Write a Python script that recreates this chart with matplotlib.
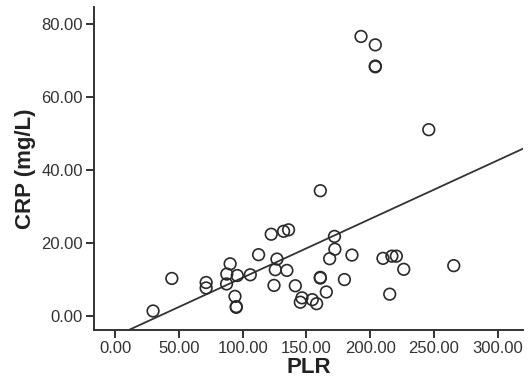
import numpy as np
import matplotlib
matplotlib.use("Agg")
import matplotlib.pyplot as plt

plt.rcParams['font.family'] = ['Liberation Sans', 'DejaVu Sans']

# Data (PLR vs CRP)
plr = [29.8, 44.5, 71.4, 71.4, 90.2, 87.6, 95.8, 87.4, 94.0, 95.0, 95.0,
       106.0, 112.5, 122.4, 126.9, 125.6, 124.6, 132.1, 136.0, 134.7, 141.3,
       146.5, 145.2, 154.6, 158.0, 160.9, 160.9, 160.9, 165.6, 168.2, 172.0,
       172.3, 179.8, 185.7, 192.8, 204.0, 204.0, 204.0, 210.0, 217.0, 220.5,
       215.3, 226.3, 245.9, 265.5]
crp = [1.4, 10.3, 9.2, 7.7, 14.3, 11.5, 11.1, 8.8, 5.4, 2.6, 2.4,
       11.3, 16.8, 22.4, 15.6, 12.7, 8.4, 23.2, 23.6, 12.5, 8.3,
       5.0, 3.8, 4.5, 3.4, 34.3, 10.6, 10.4, 6.6, 15.7, 21.8,
       18.3, 10.0, 16.7, 76.5, 74.2, 68.4, 68.2, 15.8, 16.4, 16.4,
       6.0, 12.8, 51.0, 13.8]

x_ticks = [0, 50, 100, 150, 200, 250, 300]
y_ticks = [0, 20, 40, 60, 80]
x_label = "PLR"
y_label = "CRP (mg/L)"

fig = plt.figure(figsize=(5.29, 3.87), dpi=100)
ax = fig.add_axes([0.1777, 0.1473, 0.8115, 0.835])

xlim = (-16.5, 320.0)
ylim = (-3.8, 84.6)
ax.set_xlim(*xlim)
ax.set_ylim(*ylim)

ax.scatter(plr, crp, s=70, facecolors='none', edgecolors='#2a2a2a',
           linewidths=1.2, zorder=3)

slope, intercept = np.polyfit(plr, crp, 1)
xs = np.array(xlim)
ax.plot(xs, slope * xs + intercept, color='#333333', lw=1.3, zorder=2)

for s in ['top', 'right']:
    ax.spines[s].set_visible(False)
for s in ['left', 'bottom']:
    ax.spines[s].set_linewidth(1.4)
    ax.spines[s].set_color('#333333')

ax.set_xticks(x_ticks)
ax.set_yticks(y_ticks)
ax.set_xticklabels([f"{v:.2f}" for v in x_ticks])
ax.set_yticklabels([f"{v:.2f}" for v in y_ticks])
ax.tick_params(axis='both', length=6, width=1.4, color='#333333',
               labelsize=12, labelcolor='#333333', pad=2)

ax.set_xlabel(x_label, fontsize=16, fontweight='bold', color='#222222', labelpad=1)
ax.set_ylabel(y_label, fontsize=16, fontweight='bold', color='#222222', labelpad=4)

fig.savefig("out.png", dpi=100)
print(slope, intercept)
